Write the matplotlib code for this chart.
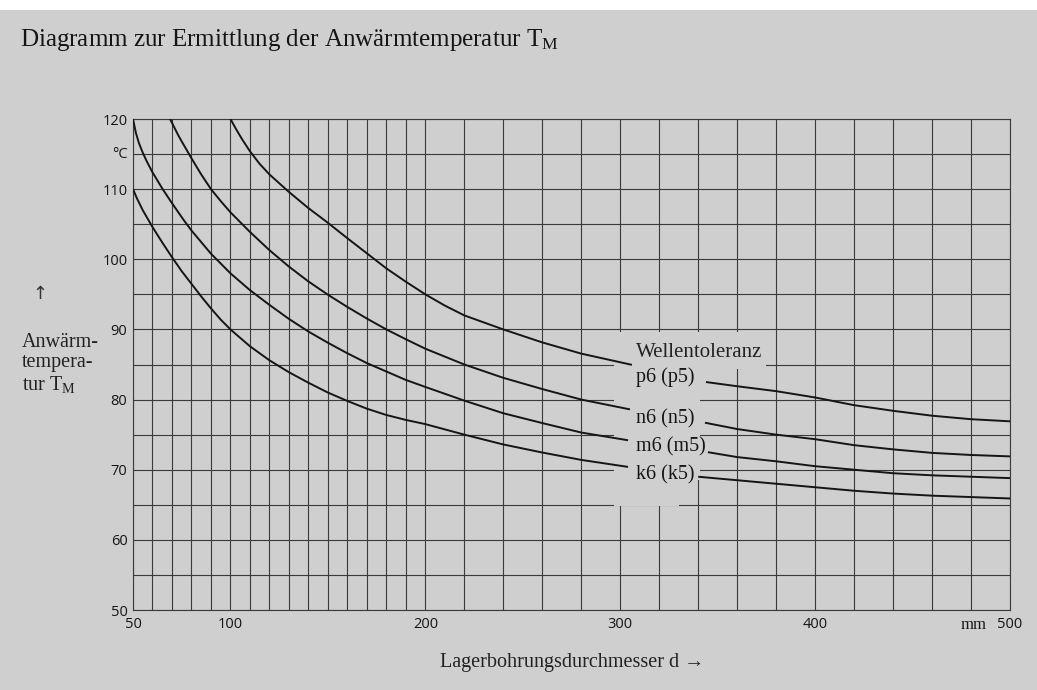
import matplotlib
matplotlib.use("Agg")
import matplotlib.pyplot as plt
from matplotlib.patches import Rectangle
import matplotlib.transforms as mtransforms

# ---------------- data ----------------
k6_left_d = [50, 52, 55, 60, 65, 70, 75, 80, 85, 90, 95, 100, 110, 120, 130, 140, 150, 160, 170, 180, 190, 200, 220, 240, 260, 280, 304]
k6_left_T = [110, 108.7, 107.0, 104.6, 102.4, 100.3, 98.3, 96.5, 94.7, 93.0, 91.4, 90.0, 87.6, 85.6, 83.9, 82.4, 81.0, 79.8, 78.7, 77.8, 77.1, 76.5, 75.0, 73.6, 72.45, 71.4, 70.4]
k6_right_d = [340, 360, 380, 400, 420, 440, 460, 480, 500]
k6_right_T = [69.0, 68.5, 68.0, 67.5, 67.0, 66.6, 66.3, 66.1, 65.9]

m6_left_d = [50, 51.5, 53, 55, 57, 60, 65, 70, 76, 80, 90, 100, 110, 120, 130, 140, 150, 160, 170, 180, 190, 200, 220, 240, 260, 280, 304]
m6_left_T = [120, 118.0, 116.6, 115.2, 114.0, 112.4, 110.1, 108.0, 105.6, 104.1, 100.8, 98.0, 95.6, 93.5, 91.5, 89.7, 88.1, 86.6, 85.2, 84.0, 82.8, 81.8, 79.85, 78.05, 76.65, 75.3, 74.2]
m6_right_d = [345, 360, 380, 400, 420, 440, 460, 480, 500]
m6_right_T = [72.5, 71.8, 71.2, 70.5, 70.0, 69.5, 69.2, 69.0, 68.8]

n6_left_d = [69, 71, 73, 75, 80, 85, 90, 95, 100, 110, 120, 130, 140, 150, 160, 170, 180, 190, 200, 220, 240, 260, 280, 305]
n6_left_T = [120, 118.9, 117.8, 116.8, 114.4, 112.1, 110.0, 108.3, 106.7, 103.9, 101.3, 98.96, 96.84, 94.95, 93.2, 91.55, 90, 88.6, 87.25, 85.0, 83.1, 81.5, 80.0, 78.6]
n6_right_d = [343.5, 360, 380, 400, 420, 440, 460, 480, 500]
n6_right_T = [76.7, 75.8, 75.0, 74.35, 73.5, 72.9, 72.4, 72.1, 71.9]

p6_left_d = [100, 103, 106, 110, 115, 120, 130, 140, 150, 160, 170, 180, 190, 200, 210, 220, 240, 260, 280, 306]
p6_left_T = [120, 118.5, 117.1, 115.4, 113.6, 112.1, 109.6, 107.3, 105.2, 103, 100.85, 98.7, 96.8, 95, 93.4, 92, 90, 88.15, 86.55, 84.95]
p6_right_d = [344, 360, 380, 400, 420, 440, 460, 480, 500]
p6_right_T = [82.5, 81.9, 81.2, 80.3, 79.2, 78.4, 77.7, 77.2, 76.9]

curve_labels = ["p6 (p5)", "n6 (n5)", "m6 (m5)", "k6 (k5)"]
label_T = [83.2, 77.2, 73.2, 69.3]
legend_title = "Wellentoleranz"
legend_title_T = 86.7

x_major = [50, 100, 200, 300, 400, 500]
x_major_labels = ["50", "100", "200", "300", "400", "500"]
x_minor = list(range(50, 200, 10)) + list(range(200, 501, 20))
y_major = [50, 60, 70, 80, 90, 100, 110, 120]
y_minor = list(range(50, 121, 5))

# ---------------- style ----------------
plt.rcParams["mathtext.fontset"] = "custom"
plt.rcParams["mathtext.rm"] = "Liberation Serif"
plt.rcParams["mathtext.it"] = "Liberation Serif:italic"
serif = "Liberation Serif"
sans = "Open Sans"
bg = "#cfcfcf"
gc = "#3a3a3a"
ink = "#151515"

fig = plt.figure(figsize=(10.37, 6.9), dpi=100)
fig.patch.set_facecolor(bg)
# white strip at the top of the photo
fig.patches.append(Rectangle((0, 1 - 10 / 690), 1, 10 / 690, transform=fig.transFigure,
                             facecolor="white", edgecolor="none", zorder=0))

W, H = 1037, 690
ax = fig.add_axes([133 / W, 1 - 610 / H, (1010 - 133) / W, (610 - 119) / H])
ax.set_facecolor(bg)
ax.set_xlim(50, 500)
ax.set_ylim(50, 120)

ax.set_xticks(x_major)
ax.set_xticklabels(x_major_labels)
ax.set_xticks(x_minor, minor=True)
ax.set_yticks(y_major)
ax.set_yticks(y_minor, minor=True)
ax.tick_params(which="both", length=0)
ax.tick_params(axis="x", pad=5, labelsize=10.5, labelcolor=ink)
ax.tick_params(axis="y", pad=4, labelsize=10.5, labelcolor=ink)
for lab in ax.get_xticklabels() + ax.get_yticklabels():
    lab.set_fontfamily(sans)

ax.set_axisbelow(True)
ax.grid(which="both", color=gc, lw=0.8)
for s in ax.spines.values():
    s.set_color(gc)
    s.set_linewidth(0.8)

# blank areas behind the labels
for (x0, y0, w, h) in [(297, 68.5, 44, 21.2), (297, 64.8, 33, 3.8), (297, 84.3, 78, 5.4)]:
    ax.add_patch(Rectangle((x0, y0), w, h, facecolor=bg, edgecolor="none", zorder=1))

for dl, Tl, dr, Tr in [(k6_left_d, k6_left_T, k6_right_d, k6_right_T),
                       (m6_left_d, m6_left_T, m6_right_d, m6_right_T),
                       (n6_left_d, n6_left_T, n6_right_d, n6_right_T),
                       (p6_left_d, p6_left_T, p6_right_d, p6_right_T)]:
    ax.plot(dl, Tl, color=ink, lw=1.4, zorder=3, solid_capstyle="butt", solid_joinstyle="round")
    ax.plot(dr, Tr, color=ink, lw=1.4, zorder=3, solid_capstyle="butt", solid_joinstyle="round")

ax.text(308, legend_title_T, legend_title, family=serif, fontsize=15, color="#222222",
        va="center", ha="left", zorder=4)
for lab, t in zip(curve_labels, label_T):
    ax.text(308, t, lab, family=serif, fontsize=14.5, color=ink, va="center", ha="left", zorder=4)

# unit labels
trans_y = mtransforms.blended_transform_factory(ax.transAxes, ax.transData)
ax.text(-0.006, 115, "°C", transform=trans_y, family=sans, fontsize=10.5, color=ink,
        ha="right", va="center")
trans_x = mtransforms.blended_transform_factory(ax.transData, ax.transAxes)
ax.text(500 - 12, -0.014, "mm", transform=trans_x, family=serif, fontsize=12, color=ink,
        ha="right", va="top")

# title and axis titles
fig.text(20 / W, 1 - 40 / H, "Diagramm zur Ermittlung der Anwärmtemperatur T$_\\mathrm{M}$",
         family=serif, fontsize=18, color=ink, ha="left", va="center")
fig.text(40 / W, 1 - 294 / H, "↑", family="DejaVu Sans", fontsize=13, color="#333333",
         ha="center", va="center")
fig.text(22 / W, 1 - 364 / H, "Anwärm-\ntempera-\ntur T$_\\mathrm{M}$", family=serif,
         fontsize=14.5, color="#222222", ha="left", va="center", linespacing=1.12)
fig.text(572 / W, 1 - 663 / H, "Lagerbohrungsdurchmesser d →",
         family=[serif, "DejaVu Sans"], fontsize=14.5, color="#222222", ha="center", va="center")

fig.savefig("out.png", dpi=100, facecolor=fig.get_facecolor())
